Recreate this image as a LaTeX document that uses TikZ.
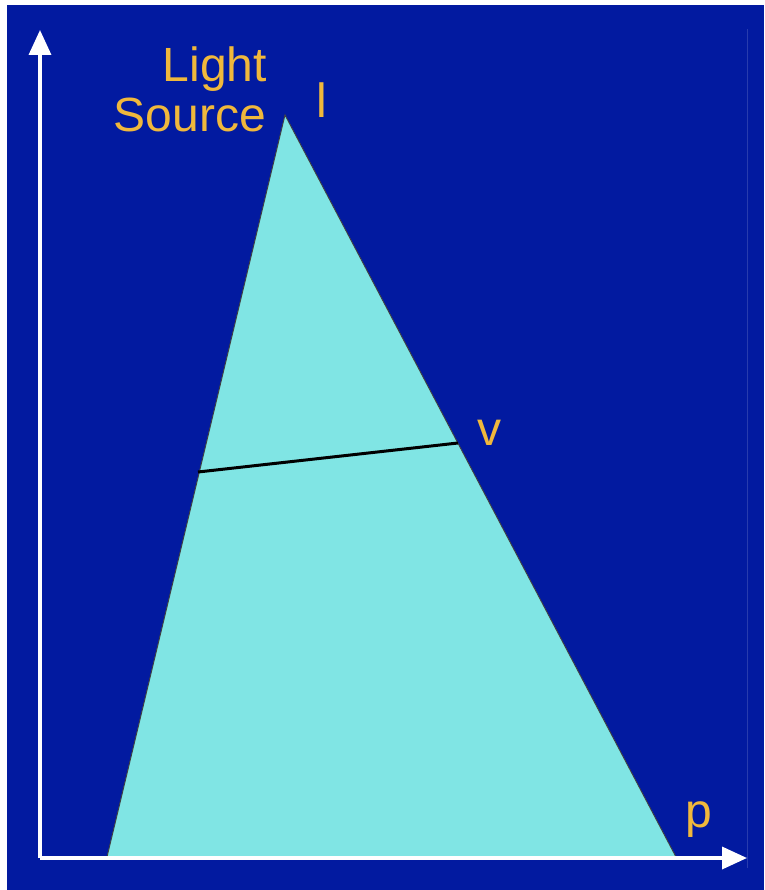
\documentclass[tikz,border=0pt]{standalone}
\usepackage{fontspec}
\setmainfont{Liberation Sans}
\usetikzlibrary{arrows.meta}
\definecolor{bgblue}{RGB}{2,26,160}
\definecolor{beam}{RGB}{128,229,228}
\definecolor{lbl}{RGB}{240,184,60}
\tikzset{
  lab/.style={text=lbl, inner sep=0pt, font=\fontsize{48}{50}\selectfont},
  axis/.style={draw=white, line width=3.5pt, line join=round,
    -{Triangle[length=25pt, width=22pt]}},
}
\begin{document}
\begin{tikzpicture}[x=1pt,y=-1pt]
\useasboundingbox (0,0) rectangle (764,890);
\fill[white] (0,0) rectangle (764,890);
\fill[bgblue] (7,5) rectangle (764,890);
\draw[bgblue!85!white, line width=0.8pt] (747,29) -- (747,868);
% beam
\coordinate (l) at (285,115);
\coordinate (bl) at (107,857);
\coordinate (br) at (676,857);
\fill[beam] (bl) -- (l) -- (br) -- cycle;
\draw[black!75, line width=0.9pt] (bl) -- (l) -- (br);
% v line
\coordinate (vl) at (198,472);
\coordinate (vr) at (458,443);
\draw[black, line width=3pt] (vl) -- (vr);
% axes
\coordinate (o) at (40,858);
\coordinate (ytip) at (40,30);
\coordinate (xtip) at (747,858);
\draw[axis] (o) -- (ytip);
\draw[axis] (o) -- (xtip);
% labels
\node[lab, anchor=base east] (light) at (267,82) {Light};
\node[lab, anchor=base east] (source) at (266,132) {Source};
\node[lab, anchor=base west] (lbl-l) at (316,118) {l};
\node[lab, anchor=base west] (lbl-v) at (477,445) {v};
\node[lab, anchor=base west] (lbl-p) at (685,827) {p};
\end{tikzpicture}
\end{document}
